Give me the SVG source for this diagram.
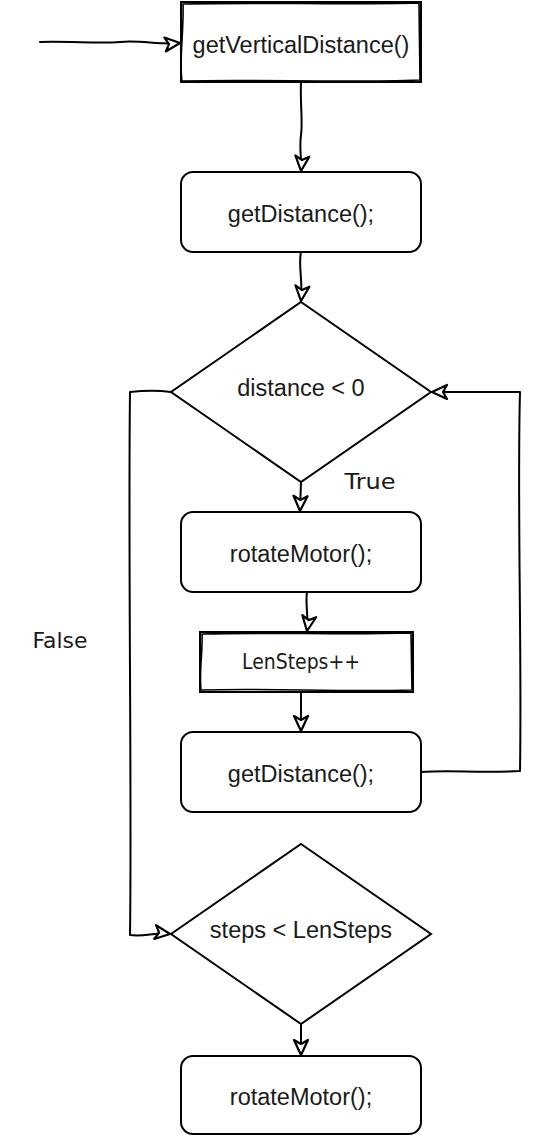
<svg xmlns="http://www.w3.org/2000/svg" width="538" height="1136" viewBox="0 0 538 1136">
<style>
.box{fill:#fff;stroke:#000;stroke-width:2}
.sk{fill:none;stroke:#000;stroke-width:1.6;stroke-linecap:round;stroke-linejoin:round}
.t{font-family:"Liberation Sans",Arial,sans-serif;font-size:23.5px;fill:#1a1a1a;text-anchor:middle}
.h{font-family:"DejaVu Sans","Liberation Sans",sans-serif;font-size:22px;fill:#1a1a1a;text-anchor:middle}
.c{fill:none;stroke:#000;stroke-width:2;stroke-linecap:round;stroke-linejoin:round}
</style>
<defs>
<marker id="ah" viewBox="0 0 20 20" refX="18" refY="10" markerWidth="20" markerHeight="20" markerUnits="userSpaceOnUse" orient="auto">
<path d="M3,3 L18,10 L3,17 L7,10 Z" fill="#fff" stroke="#000" stroke-width="2.2" stroke-linejoin="round"/>
</marker>
</defs>
<rect width="538" height="1136" fill="#fff"/>
<g id="connectors">
<path class="c" d="M40,42 C70,41 100,44 120,42 C140,40 160,45 180,43" marker-end="url(#ah)"/>
<path class="c" d="M301,82 C300,105 303,120 301,135 C299,150 302,160 301,171" marker-end="url(#ah)"/>
<path class="c" d="M301,252 C298,265 303,280 301,301" marker-end="url(#ah)"/>
<path class="c" d="M301,482 L300,511" marker-end="url(#ah)"/>
<path class="c" d="M307,592 C305,605 309,618 307,631" marker-end="url(#ah)"/>
<path class="c" d="M301,692 L301,731" marker-end="url(#ah)"/>
<path class="c" d="M421,772 C450,770 480,773 520,771 C522,650 517,500 520,392 L432,392" marker-end="url(#ah)"/>
<path class="c" d="M171,392 C155,390 140,391 130,392 C128,550 132,800 130,935 C145,937 155,932 170,934" marker-end="url(#ah)"/>
<path class="c" d="M301,1023 L301,1055" marker-end="url(#ah)"/>
</g>
<g id="n-getVerticalDistance">
<rect x="181" y="2" width="240" height="80" fill="#fff" stroke="#000" stroke-width="2"/>
<path class="sk" d="M183,4 C260,2 340,5 419,3 L420,80 C340,83 260,79 182,81 C179,60 184,30 183,4"/>
<text class="t" x="301" y="53">getVerticalDistance()</text>
</g>
<g id="n-getDistance1">
<rect class="box" x="181" y="172" width="240" height="80" rx="12"/>
<text class="t" x="301" y="222">getDistance();</text>
</g>
<g id="n-distance-lt-0">
<path class="box" d="M301,302 L431,392 L301,482 L171,392 Z"/>
<text class="t" x="301" y="396">distance &lt; 0</text>
</g>
<g id="n-rotateMotor1">
<rect class="box" x="181" y="512" width="240" height="80" rx="12"/>
<text class="t" x="301" y="562">rotateMotor();</text>
</g>
<g id="n-lensteps">
<rect x="200" y="632" width="213" height="60" fill="#fff" stroke="#000" stroke-width="2"/>
<path class="sk" d="M202,634 C270,632 340,635 411,633 L412,690 C340,692 270,688 201,690 C199,670 203,650 202,634"/>
<text class="h" x="301" y="669" textLength="118" lengthAdjust="spacingAndGlyphs">LenSteps++</text>
</g>
<g id="n-getDistance2">
<rect class="box" x="181" y="732" width="240" height="80" rx="12"/>
<text class="t" x="301" y="782">getDistance();</text>
</g>
<g id="n-steps-lt-lensteps">
<path class="box" d="M301,844 L431,934 L301,1024 L171,934 Z"/>
<text class="t" x="301" y="938">steps &lt; LenSteps</text>
</g>
<g id="n-rotateMotor2">
<rect class="box" x="181" y="1056" width="240" height="78" rx="12"/>
<text class="t" x="301" y="1105">rotateMotor();</text>
</g>
<g id="labels">
<text class="h" x="370" y="489" textLength="51" lengthAdjust="spacingAndGlyphs">True</text>
<text class="h" x="60" y="648" textLength="55" lengthAdjust="spacingAndGlyphs">False</text>
</g>
</svg>
